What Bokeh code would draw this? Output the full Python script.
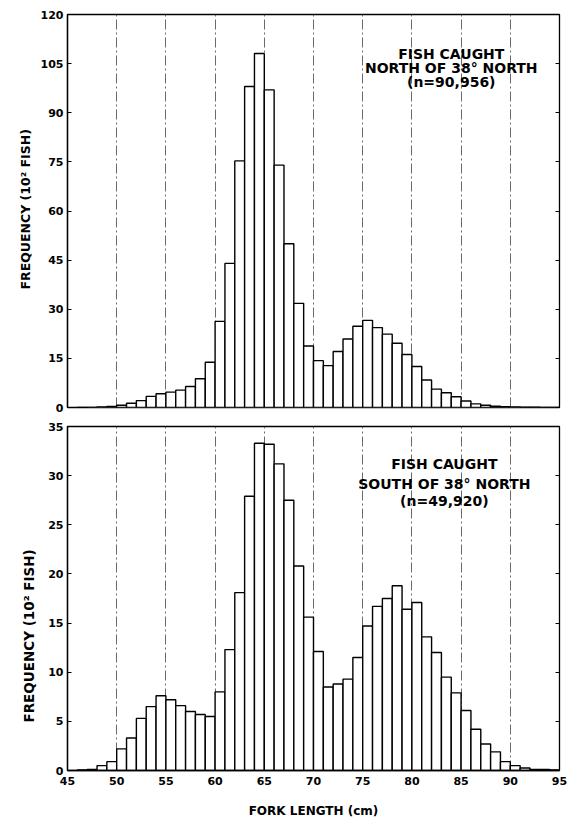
from bokeh.plotting import figure
from bokeh.models import (Label, LinearAxis, Range1d, ColumnDataSource,
                          FixedTicker, Title, CustomJSTickFormatter)
from bokeh.layouts import column
from bokeh.embed import file_html
from bokeh.resources import INLINE

# ---- data ----
bin_left = list(range(46, 95))  # 1-cm fork-length classes, 46..94
north_freq = [0, 0.05, 0.15, 0.3, 0.7, 1.3, 2.1, 3.4, 4.2, 4.7,
              5.3, 6.4, 8.8, 13.8, 26.3, 44.0, 75.3, 98.0, 108.1, 97.0,
              74.0, 50.0, 31.8, 18.8, 14.3, 12.8, 17.1, 20.9, 24.8, 26.6,
              24.4, 22.4, 19.6, 16.2, 12.5, 8.4, 5.6, 4.5, 3.3, 2.0,
              1.1, 0.7, 0.4, 0.25, 0.15, 0.1, 0.1, 0.05, 0.05]
south_freq = [0.05, 0.1, 0.5, 0.9, 2.2, 3.3, 5.3, 6.5, 7.6, 7.2,
              6.6, 6.0, 5.7, 5.5, 8.0, 12.3, 18.1, 27.9, 33.3, 33.2,
              31.2, 27.5, 20.8, 15.6, 12.1, 8.5, 8.8, 9.3, 11.5, 14.7,
              16.7, 17.5, 18.8, 16.4, 17.1, 13.6, 12.0, 9.5, 7.9, 6.1,
              4.2, 2.7, 1.9, 0.9, 0.5, 0.25, 0.1, 0.1, 0.05]
x_ticks = [45, 50, 55, 60, 65, 70, 75, 80, 85, 90, 95]
grid_x = [50, 55, 60, 65, 70, 75, 80, 85, 90]
north_yticks = [0, 15, 30, 45, 60, 75, 90, 105, 120]
south_yticks = [0, 5, 10, 15, 20, 25, 30, 35]
north_text = ["FISH CAUGHT", "NORTH OF 38° NORTH", "(n=90,956)"]
south_text = ["FISH CAUGHT", "SOUTH OF 38° NORTH", "(n=49,920)"]
y_label = "FREQUENCY (10² FISH)"
x_label = "FORK LENGTH (cm)"

FONT = "DejaVu Sans"


def make_panel(freq, ymax, yticks, height, top_b, bottom_b, show_x,
               ylab_offset, ylab_size, ylab_standoff):
    p = figure(width=572, height=height, output_backend="svg",
               toolbar_location=None, x_range=Range1d(45, 95),
               y_range=Range1d(0, ymax), min_border_left=67,
               min_border_right=13, min_border_top=top_b,
               min_border_bottom=bottom_b)
    p.outline_line_color = "black"
    p.outline_line_width = 1.3
    p.background_fill_color = "white"
    p.border_fill_color = "white"

    # grid
    p.ygrid.visible = False
    p.xgrid.ticker = FixedTicker(ticks=grid_x)
    p.xgrid.grid_line_color = "#444444"
    p.xgrid.grid_line_width = 0.8
    p.xgrid.grid_line_dash = "10 3 2 3"

    src = ColumnDataSource(dict(left=bin_left,
                                right=[b + 1 for b in bin_left],
                                top=freq))
    p.quad(left="left", right="right", bottom=0, top="top", source=src,
           fill_color="white", line_color="black", line_width=1.4)

    # y axis
    ya = p.yaxis[0]
    ya.ticker = FixedTicker(ticks=yticks)
    ya.minor_tick_line_color = None
    ya.major_tick_in = 4
    ya.major_tick_out = 0
    ya.axis_line_color = "black"
    ya.axis_line_width = 1.3
    ya.major_label_text_font = FONT
    ya.major_label_text_font_style = "bold"
    ya.major_label_text_font_size = "11px"
    ya.major_label_text_color = "black"
    ya.major_label_standoff = 4

    ra = LinearAxis(ticker=FixedTicker(ticks=yticks),
                    formatter=CustomJSTickFormatter(code="return ''"))
    ra.major_label_standoff = 0
    ra.major_tick_in = 4
    ra.major_tick_out = 0
    ra.minor_tick_line_color = None
    ra.axis_line_color = "black"
    p.add_layout(ra, "right")

    xa = p.xaxis[0]
    if show_x:
        xa.ticker = FixedTicker(ticks=x_ticks)
        xa.minor_tick_line_color = None
        xa.major_tick_in = 0
        xa.major_tick_out = 0
        xa.axis_line_color = "black"
        xa.axis_line_width = 1.3
        xa.major_label_text_font = FONT
        xa.major_label_text_font_style = "bold"
        xa.major_label_text_font_size = "11px"
        xa.major_label_text_color = "black"
        xa.major_label_standoff = 6
        xa.axis_label = x_label
        xa.axis_label_text_font = FONT
        xa.axis_label_text_font_style = "bold"
        xa.axis_label_text_font_size = "12px"
        xa.axis_label_text_color = "black"
        xa.axis_label_standoff = 16
    else:
        xa.visible = False

    t = Title(text=y_label, align="left", offset=ylab_offset,
              text_font=FONT, text_font_style="bold",
              text_font_size=ylab_size, text_color="black",
              standoff=ylab_standoff)
    p.add_layout(t, "left")
    return p


p1 = make_panel(north_freq, 120, north_yticks, 416, 14, 9, False,
                118, "12.5px", 9)
p2 = make_panel(south_freq, 35, south_yticks, 404, 10, 50, True,
                48, "13.5px", 18)

for i, t in enumerate(north_text):
    p1.add_layout(Label(x=84.0, y=[107.8, 103.6, 99.5][i], text=t,
                        text_align="center", text_baseline="middle",
                        text_font=FONT, text_font_style="bold",
                        text_font_size="14px", text_color="black"))
for i, t in enumerate(south_text):
    p2.add_layout(Label(x=83.3, y=[31.2, 29.1, 27.4][i], text=t,
                        text_align="center", text_baseline="middle",
                        text_font=FONT, text_font_style="bold",
                        text_font_size="14px", text_color="black"))

layout = column(p1, p2, spacing=0)
open("out.html", "w").write(file_html(layout, INLINE))
